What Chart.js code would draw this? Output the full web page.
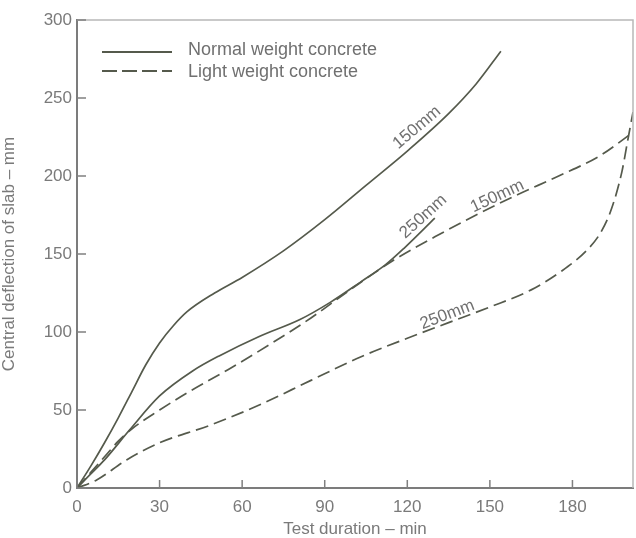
<!DOCTYPE html>
<html>
<head>
<meta charset="utf-8">
<script src="https://cdn.jsdelivr.net/npm/chart.js@4.4.0/dist/chart.umd.min.js"></script>
<style>
  html, body { margin: 0; padding: 0; background: #fff; }
  canvas { display: block; }
</style>
</head>
<body>
<canvas id="chart" width="636" height="538"></canvas>
<script>
// values (min, mm)
const normal150Min = [0, 5, 10, 15, 20, 25, 30, 35, 40, 50, 60, 75, 90, 105, 120, 135, 145, 154];
const normal150Defl = [0, 14, 29, 45, 62, 79, 93, 104, 113, 125, 135, 152, 172, 194, 216, 240, 259, 280];

const normal250Min = [0, 5, 10, 19, 30, 42, 52, 66, 81, 92, 103, 112, 119, 130];
const normal250Defl = [0, 9, 18, 37, 59, 75, 85, 97, 108, 119, 132, 143, 154, 173];

const light150Min = [0, 5, 10, 15, 20, 30, 40, 55, 70, 85, 100, 115, 130, 145, 160, 175, 190, 202];
const light150Defl = [0, 10, 20, 30, 38, 50, 61, 76, 92, 109, 128, 146, 161, 175, 188, 200, 213, 228];

const light250Min = [0, 7, 18, 30, 48, 66, 85, 103, 120, 135, 150, 165, 176, 185, 190, 194, 198, 200, 202];
const light250Defl = [0, 5, 18, 29, 40, 53, 69, 84, 96, 106, 116, 127, 139, 152, 163, 178, 203, 222, 241];

const xTicks = [0, 30, 60, 90, 120, 150, 180];
const yTicks = [0, 50, 100, 150, 200, 250, 300];

const legendNames = ["Normal weight concrete", "Light weight concrete"];
const curveNames = ["150mm", "250mm", "150mm", "250mm"];

const LINE = "#555a4c";
const TEXT = "#7a7a7a";
const FONT = '"Liberation Sans", Arial, sans-serif';
const DASH = [13, 6];

function pts(xs, ys) {
  return xs.map((x, i) => ({ x: x, y: ys[i] }));
}

function series(xs, ys, dashed) {
  return {
    data: pts(xs, ys),
    borderColor: LINE,
    borderWidth: 1.7,
    borderDash: dashed ? DASH : [],
    pointRadius: 0,
    fill: false,
    cubicInterpolationMode: "monotone",
  };
}

// curve label anchors in data units + rotation (deg)
const curveLabelSpots = [
  { x: 123.5, y: 231, rot: -40 },
  { x: 125.8, y: 174, rot: -42 },
  { x: 152.7, y: 187, rot: -25 },
  { x: 134.5, y: 111, rot: -21 },
];

const extras = {
  id: "extras",
  afterDraw(chart) {
    const ctx = chart.ctx;
    const a = chart.chartArea;
    const xs = chart.scales.x;
    const ys = chart.scales.y;
    ctx.save();

    // light frame on top and right
    ctx.strokeStyle = "#b8b8b8";
    ctx.lineWidth = 1.5;
    ctx.beginPath();
    ctx.moveTo(a.left, a.top);
    ctx.lineTo(a.right, a.top);
    ctx.lineTo(a.right, a.bottom);
    ctx.stroke();

    // inward tick marks
    ctx.strokeStyle = "#808080";
    ctx.lineWidth = 1.5;
    ctx.beginPath();
    xTicks.forEach((v) => {
      const px = xs.getPixelForValue(v);
      ctx.moveTo(px, a.bottom);
      ctx.lineTo(px, a.bottom - 8);
    });
    yTicks.forEach((v) => {
      const py = ys.getPixelForValue(v);
      ctx.moveTo(a.left, py);
      ctx.lineTo(a.left + 9, py);
    });
    ctx.stroke();

    // legend
    ctx.strokeStyle = LINE;
    ctx.lineWidth = 1.8;
    ctx.beginPath();
    ctx.moveTo(102, 52);
    ctx.lineTo(172, 52);
    ctx.stroke();
    ctx.setLineDash([15, 5]);
    ctx.beginPath();
    ctx.moveTo(102, 71);
    ctx.lineTo(172, 71);
    ctx.stroke();
    ctx.setLineDash([]);
    ctx.fillStyle = "#707070";
    ctx.font = "18px " + FONT;
    ctx.textBaseline = "middle";
    ctx.textAlign = "left";
    ctx.fillText(legendNames[0], 188, 50);
    ctx.fillText(legendNames[1], 188, 72);

    // curve labels
    ctx.font = "17px " + FONT;
    ctx.textAlign = "center";
    curveLabelSpots.forEach((s, i) => {
      ctx.save();
      ctx.translate(xs.getPixelForValue(s.x), ys.getPixelForValue(s.y));
      ctx.rotate((s.rot * Math.PI) / 180);
      ctx.fillText(curveNames[i], 0, 0);
      ctx.restore();
    });

    ctx.restore();
  },
};

new Chart(document.getElementById("chart"), {
  type: "line",
  data: {
    datasets: [
      series(normal150Min, normal150Defl, false),
      series(normal250Min, normal250Defl, false),
      series(light150Min, light150Defl, true),
      series(light250Min, light250Defl, true),
    ],
  },
  options: {
    responsive: false,
    animation: false,
    layout: { padding: { top: 20, right: 3, left: 0, bottom: 0 } },
    plugins: { legend: { display: false }, tooltip: { enabled: false } },
    scales: {
      x: {
        type: "linear",
        min: 0,
        max: 202,
        afterBuildTicks: (s) => { s.ticks = xTicks.map((v) => ({ value: v })); },
        afterFit: (s) => { s.height = 50; },
        grid: { display: false, drawTicks: false },
        border: { display: true, color: "#7c7c7c", width: 2 },
        ticks: { padding: 9, color: TEXT, font: { family: FONT, size: 17 }, maxRotation: 0 },
        title: {
          display: true,
          text: "Test duration – min",
          color: TEXT,
          font: { family: FONT, size: 17, lineHeight: 1 },
          padding: { top: 0, bottom: 0 },
        },
      },
      y: {
        min: 0,
        max: 300,
        afterBuildTicks: (s) => { s.ticks = yTicks.map((v) => ({ value: v })); },
        afterFit: (s) => { s.width = 77; },
        grid: { display: false, drawTicks: false },
        border: { display: true, color: "#7c7c7c", width: 2 },
        ticks: { padding: 5, color: TEXT, font: { family: FONT, size: 17 } },
        title: {
          display: true,
          text: "Central deflection of slab – mm",
          color: TEXT,
          font: { family: FONT, size: 17, lineHeight: 1 },
          padding: { top: 1, bottom: 0 },
        },
      },
    },
  },
  plugins: [extras],
});
</script>
</body>
</html>
